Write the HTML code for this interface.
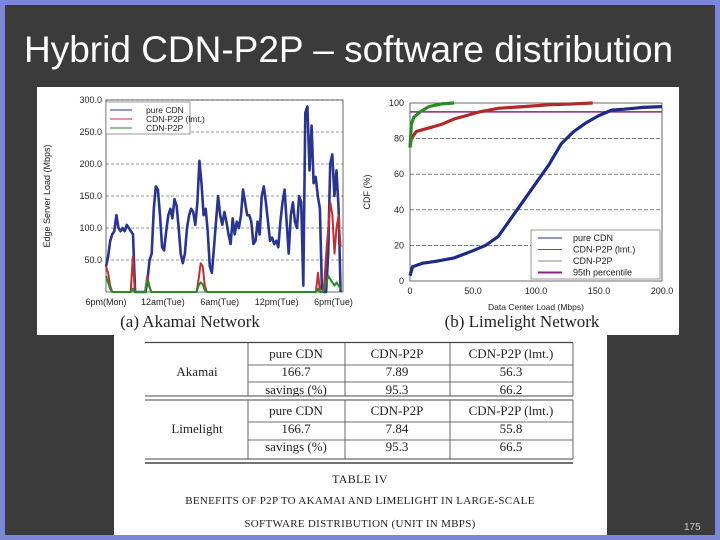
<!DOCTYPE html>
<html><head><meta charset="utf-8">
<style>
body{margin:0;width:720px;height:540px;overflow:hidden;background:#7b86d6;font-family:"Liberation Sans",sans-serif}
#slide{position:absolute;left:5px;top:5px;width:710px;height:530px;background:#3b3b3b}
#title{position:absolute;left:24px;top:29px;color:#fff;font-size:37px;white-space:nowrap}
#pn{position:absolute;left:684px;top:522px;color:#ccc;font-size:10px}
svg{position:absolute;left:0;top:0}
.tt{font-family:"Liberation Serif",serif;fill:#222}
</style></head><body>
<div id="slide"></div>
<div id="title">Hybrid CDN-P2P – software distribution</div>
<div id="pn">175</div>
<svg id="s" width="720" height="540">
<rect x="37" y="87" width="642" height="248" fill="#fff"/>
<rect x="114" y="335" width="493" height="200" fill="#fff"/>
<g id="L"></g>
<g id="R"></g>
<g id="T"></g>
</svg>
<script>
// Akamai time series (Mbps), evenly spaced over ~25 hours from 6pm Mon
const akamaiPure=[40,55,80,90,95,120,100,95,100,95,105,100,95,90,0,0,0,0,0,0,20,50,60,130,165,160,120,70,65,95,120,130,115,145,135,100,60,45,60,100,120,130,125,105,140,205,170,120,130,95,40,30,70,110,150,120,105,125,110,90,75,115,90,110,100,120,160,140,120,120,110,75,80,110,90,150,165,140,110,80,85,75,80,70,110,140,160,110,60,120,140,110,100,150,140,10,280,290,190,260,170,180,150,130,5,0,0,60,200,215,150,190,130,0];
const akamaiLmt=[40,30,10,0,0,0,0,0,0,0,0,0,0,55,0,0,0,0,0,0,25,10,0,0,0,0,0,0,0,0,0,0,0,0,0,0,0,0,0,0,0,0,0,0,0,20,45,40,10,0,0,0,0,0,0,0,0,0,0,0,0,0,0,0,0,0,0,0,0,0,0,0,0,0,0,0,0,0,0,0,0,0,0,0,0,0,0,0,0,0,0,0,0,0,0,0,0,0,0,0,0,0,0,30,0,0,10,60,100,140,120,60,100,120,70];
const akamaiP2P=[25,15,5,0,0,0,0,0,0,0,0,0,0,5,0,0,0,0,0,0,20,8,0,0,0,0,0,0,0,0,0,0,0,0,0,0,0,0,0,0,0,0,0,0,0,10,15,12,3,0,0,0,0,0,0,0,0,0,0,0,0,0,0,0,0,0,0,0,0,0,0,0,0,0,0,0,0,0,0,0,0,0,0,0,0,0,0,0,0,0,0,0,0,0,0,0,0,0,0,0,0,0,0,5,0,0,3,15,25,20,15,10,15,10,5];
const leftYTicks=[50,100,150,200,250,300];
const leftXLabels=["6pm(Mon)","12am(Tue)","6am(Tue)","12pm(Tue)","6pm(Tue)"];
const leftXHours=[0,6,12,18,24];
// Limelight CDF points [Mbps, %]
const cdfPure=[[0,3],[2,8],[10,10],[20,11],[35,13],[50,17],[60,20],[70,25],[80,35],[90,45],[100,55],[110,65],[120,77],[130,84],[140,89],[150,93],[160,96],[170,96.5],[185,97.5],[200,98]];
const cdfLmt=[[0,75],[1,80],[5,84],[15,86],[25,88],[35,91],[45,93],[55,95],[70,97],[90,98],[110,99],[130,99.5],[145,100]];
const cdfP2P=[[0,75],[1,88],[3,92],[8,95],[15,98],[25,99.5],[35,100]];
const percentile=95;
const rightYTicks=[0,20,40,60,80,100];
const rightXTicks=[0,50,100,150,200];

const NS="http://www.w3.org/2000/svg";
function mk(p,t,a,txt){const e=document.createElementNS(NS,t);for(const k in a)e.setAttribute(k,a[k]);if(txt!==undefined)e.textContent=txt;p.appendChild(e);return e;}
// Left chart
const L=document.getElementById('L');
const lx=h=>106+h*(343-106)/25, ly=v=>292-v*(292-100)/300;
mk(L,'rect',{x:106,y:100,width:237,height:192,fill:'none',stroke:'#444','stroke-width':0.8});
leftYTicks.forEach(v=>{const g=mk(L,'line',{x1:106,x2:343,y1:ly(v),y2:ly(v),stroke:'#333','stroke-dasharray':'3,2','stroke-width':0.6});

const t=mk(L,'text',{x:102,y:ly(v)+3,'font-size':9,'text-anchor':'end',fill:'#222'},v.toFixed(1));
});
leftXLabels.forEach((s,i)=>{const t=mk(L,'text',{x:lx(leftXHours[i]),y:305,'font-size':9,'text-anchor':'middle',fill:'#222'},s);
});
const yt=mk(L,'text',{x:0,y:0,'font-size':9,'text-anchor':'middle',fill:'#222',transform:'translate(50,196) rotate(-90)'},'Edge Server Load (Mbps)');

function series(arr,col,name,w){const n=arr.length;const pts=arr.map((v,i)=>lx(i*25/(n-1)*0.99).toFixed(1)+','+ly(v).toFixed(1)).join(' ');
const p=mk(L,'polyline',{points:pts,fill:'none',stroke:col,'stroke-width':w,'stroke-linejoin':'round'});}
series(akamaiPure,'#2a3590','series-pure-cdn',2.6);
series(akamaiLmt,'#c03030','series-cdn-p2p-lmt',2);
series(akamaiP2P,'#2a8a2a','series-cdn-p2p',2);
const lg=mk(L,'g',{});
mk(lg,'rect',{x:106,y:102,width:84,height:32,fill:'#fff',stroke:'#555','stroke-width':0.6});
[['pure CDN','#223388'],['CDN-P2P (lmt.)','#c03030'],['CDN-P2P','#2a8a2a']].forEach((d,i)=>{
mk(lg,'line',{x1:110,x2:132,y1:110+i*9,y2:110+i*9,stroke:d[1],'stroke-width':1});
const t=mk(lg,'text',{x:146,y:113+i*9,'font-size':8.5,fill:'#222'},d[0]);});
const lc=mk(L,'text',{x:190,y:327,'font-size':17,'text-anchor':'middle',class:'tt'},'(a)  Akamai  Network');

// Right chart
const R=document.getElementById('R');
const rx=v=>410+v*(662-410)/200, ry=v=>281-v*(281-103)/100;
mk(R,'rect',{x:410,y:103,width:252,height:178,fill:'none',stroke:'#444','stroke-width':0.8});
rightYTicks.forEach(v=>{if(v>0&&v<100){const g=mk(R,'line',{x1:410,x2:662,y1:ry(v),y2:ry(v),stroke:'#333','stroke-dasharray':'4,2','stroke-width':0.6});}
const t=mk(R,'text',{x:404,y:ry(v)+3,'font-size':9,'text-anchor':'end',fill:'#222'},v);});
rightXTicks.forEach(v=>{const t=mk(R,'text',{x:rx(v),y:294,'font-size':9,'text-anchor':'middle',fill:'#222'},v===0?'0':v.toFixed(1));});
const rxt=mk(R,'text',{x:536,y:310,'font-size':8.5,'text-anchor':'middle',fill:'#222'},'Data Center Load (Mbps)');
const ryt=mk(R,'text',{x:0,y:0,'font-size':9,'text-anchor':'middle',fill:'#222',transform:'translate(370,192) rotate(-90)'},'CDF (%)');
const pl=mk(R,'line',{x1:410,x2:662,y1:ry(percentile),y2:ry(percentile),stroke:'#882288','stroke-width':1.5});
function cdf(arr,col,name){const p=mk(R,'polyline',{points:arr.map(d=>rx(d[0]).toFixed(1)+','+ry(d[1]).toFixed(1)).join(' '),fill:'none',stroke:col,'stroke-width':3.2});}
cdf(cdfPure,'#1c2a88','cdf-pure-cdn');cdf(cdfLmt,'#b02a2a','cdf-cdn-p2p-lmt');cdf(cdfP2P,'#2a8a2a','cdf-cdn-p2p');
const rl=mk(R,'g',{});
mk(rl,'rect',{x:531,y:230,width:129,height:49,fill:'#fff',stroke:'#555','stroke-width':0.6});
[['pure CDN','#1c2a88',1],['CDN-P2P (lmt.)','#c03030',1],['CDN-P2P','#888',1],['95th percentile','#882288',2]].forEach((d,i)=>{
mk(rl,'line',{x1:538,x2:562,y1:238+i*11.5,y2:238+i*11.5,stroke:d[1],'stroke-width':d[2]});
const t=mk(rl,'text',{x:573,y:241+i*11.5,'font-size':9,fill:'#222'},d[0]);});
const rc=mk(R,'text',{x:522,y:327,'font-size':17,'text-anchor':'middle',class:'tt'},'(b)  Limelight  Network');
// Table
const T=document.getElementById('T');
const hl=(y,w)=>mk(T,'line',{x1:145,x2:573,y1:y,y2:y,stroke:'#444','stroke-width':w||0.8});
hl(342.5,1.2);hl(396,1);hl(400,1);hl(459,1);hl(463,1.5);
[[365,382],[422,440]].forEach(a=>a.forEach(y=>mk(T,'line',{x1:248,x2:573,y1:y,y2:y,stroke:'#444','stroke-width':0.8})));
[[343,396],[400,459]].forEach(r=>[248,345,450,573].forEach(x=>mk(T,'line',{x1:x,x2:x,y1:r[0],y2:r[1],stroke:'#444','stroke-width':0.8})));
const rows=[['Akamai',['pure CDN','CDN-P2P','CDN-P2P (lmt.)'],['166.7','7.89','56.3'],['savings (%)','95.3','66.2']],
['Limelight',['pure CDN','CDN-P2P','CDN-P2P (lmt.)'],['166.7','7.84','55.8'],['savings (%)','95.3','66.5']]];
const cx=[296,397,511];
rows.forEach((r,k)=>{const y0=k?400:343;
const n=mk(T,'text',{x:197,y:y0+33,'font-size':13,'text-anchor':'middle',class:'tt'},r[0]);
[r[1],r[2],r[3]].forEach((row,j)=>row.forEach((c,i)=>{const t=mk(T,'text',{x:cx[i],y:y0+15+j*18,'font-size':13,'text-anchor':'middle',class:'tt'},c);}));});
[['TABLE IV',483,12],['BENEFITS OF P2P TO AKAMAI AND LIMELIGHT IN LARGE-SCALE',504,11],['SOFTWARE DISTRIBUTION (UNIT IN MBPS)',527,11]].forEach(d=>{
const t=mk(T,'text',{x:360,y:d[1],'font-size':d[2],'text-anchor':'middle',class:'tt','letter-spacing':'0.3'},d[0]);});
</script>
</body></html>
